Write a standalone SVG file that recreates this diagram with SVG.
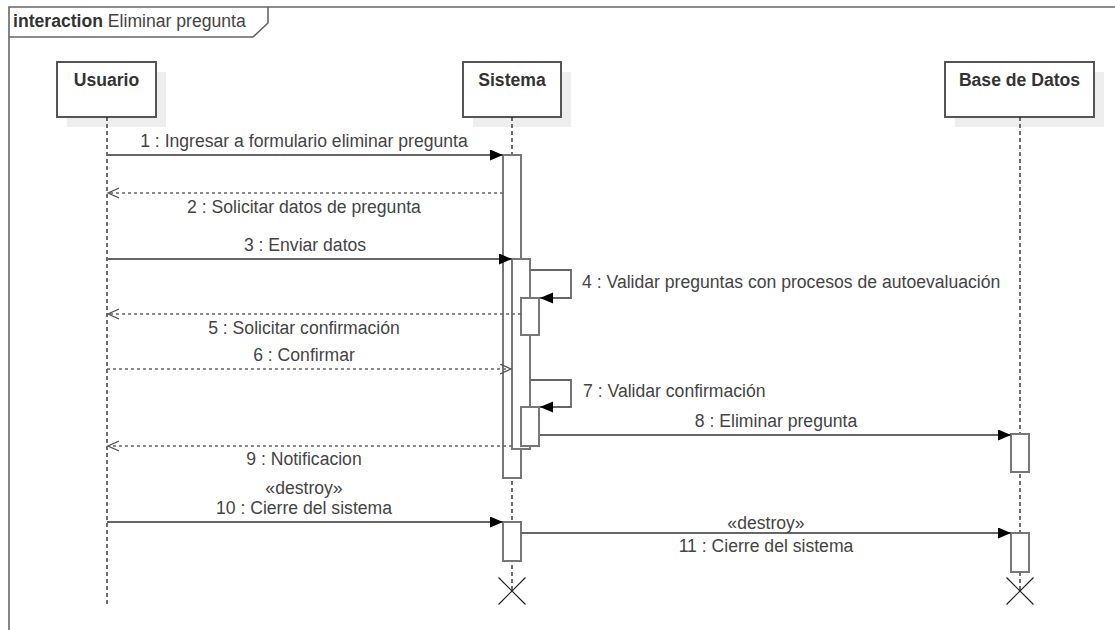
<svg xmlns="http://www.w3.org/2000/svg" width="1115" height="630" viewBox="0 0 1115 630">
<defs>
<marker id="filled" markerWidth="14" markerHeight="12" refX="13" refY="5.5" orient="auto" markerUnits="userSpaceOnUse">
<path d="M0,0 L13,5.5 L0,11 Z" fill="#000"/>
</marker>
<marker id="open" markerWidth="14" markerHeight="12" refX="11" refY="5.5" orient="auto" markerUnits="userSpaceOnUse">
<path d="M0,0.5 L11,5.5 L0,10.5" fill="none" stroke="#555" stroke-width="1.3"/>
</marker>
</defs>
<style>
text{font-family:"Liberation Sans",Arial,sans-serif;font-size:17.6px;fill:#444}
.t{font-weight:bold;fill:#333}
.c{text-anchor:middle}
.box{fill:#fff;stroke:#555;stroke-width:2}
.shadow{fill:#eee}
.life{stroke:#222;stroke-width:1.3;stroke-dasharray:4,3;fill:none}
.act{fill:#fff;stroke:#777;stroke-width:2}
.msg{stroke:#666;stroke-width:1.8;fill:none}
.ret{stroke:#666;stroke-width:1.5;stroke-dasharray:3,3;fill:none}
.x{stroke:#222;stroke-width:1.2}
.frame{fill:none;stroke:#666;stroke-width:1.6}
</style>
<g id="frame">
<path class="frame" d="M9,630 L9,7 L1115,7"/>
<path class="frame" d="M9,37 L253,37 L268,23 L268,7"/>
<text x="13" y="27"><tspan class="t">interaction</tspan> Eliminar pregunta</text>
</g>
<g id="usuario">
<rect class="shadow" x="67" y="72" width="99" height="55"/>
<rect class="box" x="57" y="62" width="99" height="55"/>
<text class="t c" x="106.5" y="86">Usuario</text>
<line class="life" x1="107" y1="117" x2="107" y2="606"/>
</g>
<g id="sistema">
<rect class="shadow" x="473" y="72" width="98" height="55"/>
<rect class="box" x="463" y="62" width="98" height="55"/>
<text class="t c" x="512" y="86">Sistema</text>
<line class="life" x1="512" y1="117" x2="512" y2="591"/>
<rect class="act" x="503" y="155" width="18" height="323"/>
<rect class="act" x="512" y="259" width="18" height="190"/>
<rect class="act" x="521" y="298" width="18" height="37"/>
<rect class="act" x="521" y="407" width="18" height="39"/>
<rect class="act" x="503" y="522" width="18" height="39"/>
<path class="x" d="M498.5,577.5 L525.5,604.5 M525.5,577.5 L498.5,604.5"/>
</g>
<g id="basededatos">
<rect class="shadow" x="955" y="72" width="149" height="55"/>
<rect class="box" x="945" y="62" width="149" height="55"/>
<text class="t c" x="1019.5" y="86">Base de Datos</text>
<line class="life" x1="1020" y1="117" x2="1020" y2="591"/>
<rect class="act" x="1011" y="434" width="18" height="38"/>
<rect class="act" x="1011" y="533" width="18" height="39"/>
<path class="x" d="M1006.5,577.5 L1033.5,604.5 M1033.5,577.5 L1006.5,604.5"/>
</g>
<g id="connectors">
<line class="msg" x1="107" y1="155" x2="503" y2="155" marker-end="url(#filled)"/>
<text class="c" x="304" y="147">1 : Ingresar a formulario eliminar pregunta</text>
<line class="ret" x1="503" y1="193" x2="108" y2="193" marker-end="url(#open)"/>
<text class="c" x="304" y="213">2 : Solicitar datos de pregunta</text>
<line class="msg" x1="107" y1="259" x2="512" y2="259" marker-end="url(#filled)"/>
<text class="c" x="305" y="251">3 : Enviar datos</text>
<path class="msg" d="M530,270 L571,270 L571,298 L540,298" marker-end="url(#filled)"/>
<text x="582" y="288">4 : Validar preguntas con procesos de autoevaluación</text>
<line class="ret" x1="521" y1="314" x2="108" y2="314" marker-end="url(#open)"/>
<text class="c" x="304" y="334">5 : Solicitar confirmación</text>
<line class="ret" x1="107" y1="369" x2="511" y2="369" marker-end="url(#open)"/>
<text class="c" x="304" y="361">6 : Confirmar</text>
<path class="msg" d="M530,380 L571,380 L571,407 L540,407" marker-end="url(#filled)"/>
<text x="583" y="397">7 : Validar confirmación</text>
<line class="msg" x1="540" y1="435" x2="1011" y2="435" marker-end="url(#filled)"/>
<text class="c" x="776" y="427">8 : Eliminar pregunta</text>
<line class="ret" x1="512" y1="446" x2="108" y2="446" marker-end="url(#open)"/>
<text class="c" x="304" y="465">9 : Notificacion</text>
<line class="msg" x1="107" y1="522" x2="503" y2="522" marker-end="url(#filled)"/>
<text class="c" x="304" y="494">«destroy»</text>
<text class="c" x="304" y="514">10 : Cierre del sistema</text>
<line class="msg" x1="521" y1="533" x2="1011" y2="533" marker-end="url(#filled)"/>
<text class="c" x="766" y="529">«destroy»</text>
<text class="c" x="766" y="552">11 : Cierre del sistema</text>
</g>
</svg>
